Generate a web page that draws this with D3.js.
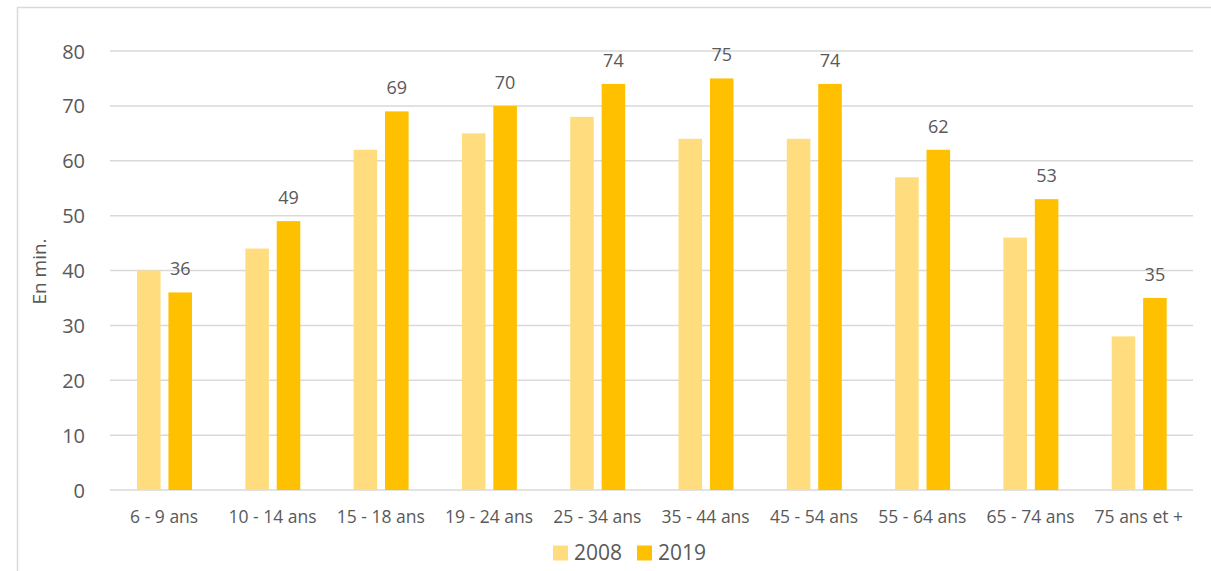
<!DOCTYPE html>
<html lang="fr">
<head>
<meta charset="UTF-8">
<title>Durée par âge</title>
<script src="https://d3js.org/d3.v7.min.js"></script>
<style>
  body { margin: 0; background: #fff; }
  text { font-family: "Open Sans", "DejaVu Sans", sans-serif; fill: #595959; }
</style>
</head>
<body>
<svg id="chart" width="1211" height="571"></svg>
<script>
// données
var categories = ["6 - 9 ans", "10 - 14 ans", "15 - 18 ans", "19 - 24 ans", "25 - 34 ans",
                  "35 - 44 ans", "45 - 54 ans", "55 - 64 ans", "65 - 74 ans", "75 ans et +"];
var series = ["2008", "2019"];
var values2008 = [40, 44, 62, 65, 68, 64, 64, 57, 46, 28];
var values2019 = [36, 49, 69, 70, 74, 75, 74, 62, 53, 35];
var yTicks = [0, 10, 20, 30, 40, 50, 60, 70, 80];
var colors = { "2008": "#FFDD7F", "2019": "#FFC000" };

var svg = d3.select("#chart");
var plotLeft = 110, plotRight = 1193, plotTop = 51, plotBottom = 490;

// cadre
svg.append("rect")
  .attr("x", 17.5).attr("y", 7.5)
  .attr("width", 1220).attr("height", 600)
  .attr("fill", "none").attr("stroke", "#d9d9d9").attr("stroke-width", 1.5);

var x = d3.scaleBand().domain(categories).range([plotLeft, plotRight]).paddingInner(0).paddingOuter(0);
var xs = d3.scaleBand().domain(series).range([27, 82]).paddingInner(0.25);
var y = d3.scaleLinear().domain([0, 80]).range([plotBottom, plotTop]);

// grille
svg.append("g").selectAll("line").data(yTicks).enter().append("line")
  .attr("x1", plotLeft).attr("x2", plotRight)
  .attr("y1", function(d){ return y(d); }).attr("y2", function(d){ return y(d); })
  .attr("stroke", "#d9d9d9").attr("stroke-width", 1.5);

// axe y
var yAxis = svg.append("g").attr("transform", "translate(" + (plotLeft - 25) + ",0)")
  .call(d3.axisLeft(y).tickValues(yTicks).tickSize(0).tickPadding(0));
yAxis.select(".domain").remove();
yAxis.selectAll("text").style("font-size", "20px").attr("dy", "0.35em");

svg.append("text")
  .attr("transform", "translate(46," + ((plotTop + plotBottom) / 2 + 1) + ") rotate(-90)")
  .attr("text-anchor", "middle")
  .style("font-size", "19px")
  .text("En min.");

// barres
var rows = categories.map(function(c, i){
  return { cat: c, vals: [{ s: "2008", v: values2008[i] }, { s: "2019", v: values2019[i] }] };
});

var groups = svg.append("g").selectAll("g").data(rows).enter().append("g")
  .attr("transform", function(d){ return "translate(" + x(d.cat) + ",0)"; });

groups.selectAll("rect").data(function(d){ return d.vals; }).enter().append("rect")
  .attr("x", function(d){ return xs(d.s); })
  .attr("width", xs.bandwidth())
  .attr("y", function(d){ return y(d.v); })
  .attr("height", function(d){ return y(0) - y(d.v); })
  .attr("fill", function(d){ return colors[d.s]; });

// étiquettes 2019
groups.append("text")
  .attr("x", function(){ return xs("2019") + xs.bandwidth() / 2; })
  .attr("y", function(d){ return y(d.vals[1].v) - 17; })
  .attr("text-anchor", "middle")
  .style("font-size", "18px")
  .text(function(d){ return d.vals[1].v; });

// axe x
var xAxis = svg.append("g").attr("transform", "translate(0," + plotBottom + ")")
  .call(d3.axisBottom(x).tickSize(0).tickPadding(21));
xAxis.select(".domain").remove();
xAxis.selectAll("text").style("font-size", "17.5px");

// légende
var legend = svg.append("g").attr("transform", "translate(553,553)");
var lx = 0;
series.forEach(function(s){
  legend.append("rect").attr("x", lx).attr("y", -7.5).attr("width", 15).attr("height", 15)
    .attr("fill", colors[s]);
  legend.append("text").attr("x", lx + 21).attr("y", 0).attr("dy", "0.35em")
    .style("font-size", "21px").text(s);
  lx += 84;
});
</script>
</body>
</html>
